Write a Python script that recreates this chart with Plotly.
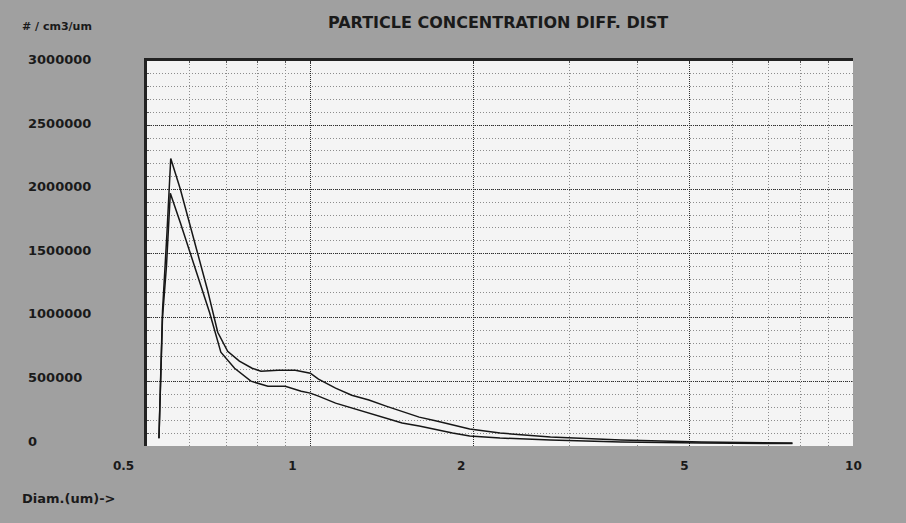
import math
import plotly.graph_objects as go

# ---------------- data ----------------
X_TICKS = [0.5, 1, 2, 5, 10]
X_TICK_LABELS = ["0.5", "1", "2", "5", "10"]
X_MINOR = [0.6, 0.7, 0.8, 0.9, 3, 4, 6, 7, 8, 9]
Y_TICKS = [0, 500000, 1000000, 1500000, 2000000, 2500000, 3000000]
Y_TICK_LABELS = ["0", "500000", "1000000", "1500000", "2000000", "2500000", "3000000"]
Y_MINOR_STEP = 100000

diam_upper = [0.526, 0.534, 0.544, 0.553, 0.576, 0.611, 0.646, 0.675, 0.704, 0.740,
              0.781, 0.811, 0.872, 0.938, 1.0, 1.035, 1.080, 1.113, 1.192, 1.282,
              1.379, 1.476, 1.587, 1.708, 1.828, 1.966, 2.236, 2.770, 3.736, 5.264, 7.735]
conc_upper = [60000, 1050000, 1650000, 2240000, 2000000, 1610000, 1220000, 886000, 738000, 661000,
              606000, 583000, 591000, 591000, 567000, 521000, 480000, 451000, 396000, 358000,
              311000, 272000, 225000, 194000, 163000, 132000, 101000, 70000, 47000, 31000, 23000]

diam_lower = [0.526, 0.534, 0.543, 0.552, 0.576, 0.611, 0.652, 0.684, 0.725, 0.777,
              0.835, 0.899, 0.962, 1.0, 1.035, 1.113, 1.192, 1.282, 1.379, 1.476,
              1.587, 1.708, 1.828, 1.966, 2.236, 2.770, 3.736, 5.264, 7.735]
conc_lower = [60000, 1000000, 1400000, 1970000, 1740000, 1400000, 1040000, 731000, 606000, 505000,
              466000, 466000, 427000, 412000, 389000, 334000, 295000, 256000, 218000, 179000,
              155000, 124000, 101000, 78000, 62000, 47000, 31000, 23000, 19000]

TITLE = "PARTICLE CONCENTRATION DIFF. DIST"
Y_UNIT = "# / cm3/um"
X_UNIT = "Diam.(um)->"

# ---------------- layout (pixels) ----------------
W, H = 906, 523
PL, PR, PT, PB = 147, 853, 61, 446          # plot box
XL_L, XL_R = 100, 880                        # extent of x-label axis
XL_AT1, XL_PER_DEC = 292.4, 561.0            # where tick labels sit
YL_B, YL_T = 457, 50                         # extent of y-label axis
YL_AT0, YL_PER_UNIT = 441.0, 127.07e-6
YL_X = 27

FONT = "DejaVu Sans"
TXT = "#1a1a1a"
GRID_MAJ = "#2e2e2e"
GRID_MIN = "#8c8c8c"
LINE = "#161616"
BG = "#a0a0a0"

fig = go.Figure()
fig.add_trace(go.Scatter(x=diam_upper, y=conc_upper, mode="lines",
                         line=dict(color=LINE, width=1.5), hoverinfo="skip", showlegend=False))
fig.add_trace(go.Scatter(x=diam_lower, y=conc_lower, mode="lines",
                         line=dict(color=LINE, width=1.5), hoverinfo="skip", showlegend=False))
# invisible trace that keeps the tick-label axes alive
fig.add_trace(go.Scatter(x=[X_TICKS[1]], y=[Y_TICKS[0]], mode="markers", marker=dict(opacity=0),
                         xaxis="x2", yaxis="y2", hoverinfo="skip", showlegend=False))

tick_font = dict(family=FONT, size=13, color=TXT, weight="bold")

fig.update_layout(
    width=W, height=H, autosize=False,
    margin=dict(l=0, r=0, t=0, b=0, pad=0),
    paper_bgcolor=BG,
    plot_bgcolor="rgba(0,0,0,0)",
    showlegend=False,
    title=dict(text=TITLE, x=498 / W, y=1 - 22 / H, xanchor="center", yanchor="middle",
               font=dict(family=FONT, size=16, color=TXT, weight="bold")),
    xaxis=dict(
        type="log", range=[math.log10(X_TICKS[0]), math.log10(X_TICKS[-1])],
        domain=[PL / W, PR / W], side="top", anchor="y",
        showline=True, linecolor="#222222", linewidth=2.5,
        tickvals=X_TICKS, showticklabels=False,
        ticks="inside", ticklen=3, tickcolor="#333333",
        showgrid=True, gridcolor=GRID_MAJ, gridwidth=1, griddash="1px,1px",
        zeroline=False,
        minor=dict(tickvals=X_MINOR, showgrid=True, gridcolor=GRID_MIN, gridwidth=1,
                   griddash="1px,2px", ticks="inside", ticklen=2, tickcolor="#555555"),
    ),
    yaxis=dict(
        range=[Y_TICKS[0], Y_TICKS[-1]],
        domain=[(H - PB) / H, (H - PT) / H], anchor="x",
        showline=True, linecolor="#222222", linewidth=3,
        tickvals=Y_TICKS, showticklabels=False,
        ticks="inside", ticklen=3, tickcolor="#333333",
        showgrid=True, gridcolor=GRID_MAJ, gridwidth=1, griddash="1px,1px",
        zeroline=False,
        minor=dict(tick0=0, dtick=Y_MINOR_STEP, showgrid=True, gridcolor=GRID_MIN, gridwidth=1,
                   griddash="1px,2px", ticks="inside", ticklen=2, tickcolor="#555555"),
    ),
    xaxis2=dict(
        type="log",
        range=[(XL_L - XL_AT1) / XL_PER_DEC, (XL_R - XL_AT1) / XL_PER_DEC],
        domain=[XL_L / W, XL_R / W], anchor="y2", side="bottom",
        tickvals=X_TICKS, ticktext=X_TICK_LABELS, tickfont=dict(family=FONT, size=12, color=TXT, weight="bold"),
        ticks="", showline=False, showgrid=False, zeroline=False,
    ),
    yaxis2=dict(
        range=[(YL_AT0 - YL_B) / YL_PER_UNIT, (YL_AT0 - YL_T) / YL_PER_UNIT],
        domain=[(H - YL_B) / H, (H - YL_T) / H], anchor="free", position=YL_X / W, side="right",
        tickvals=Y_TICKS, ticktext=Y_TICK_LABELS, tickfont=tick_font,
        ticks="", showline=False, showgrid=False, zeroline=False,
    ),
    shapes=[dict(type="rect", xref="x domain", yref="y domain", x0=0, x1=1, y0=0, y1=1,
                 fillcolor="#f4f4f4", line=dict(width=0), layer="below")],
    annotations=[
        dict(text=Y_UNIT, x=20 / W, y=1 - 27 / H, xref="paper", yref="paper",
             xanchor="left", yanchor="middle", showarrow=False,
             font=dict(family=FONT, size=11, color=TXT, weight="bold")),
        dict(text=X_UNIT, x=20 / W, y=1 - 498 / H, xref="paper", yref="paper",
             xanchor="left", yanchor="middle", showarrow=False,
             font=dict(family=FONT, size=13, color=TXT, weight="bold")),
    ],
)

fig.write_html(
    "out.html",
    config={"displayModeBar": False},
    post_script=(
        "document.documentElement.style.margin='0';"
        "document.body.style.margin='0';document.body.style.padding='0';"
        "document.body.style.overflow='hidden';"
        "document.body.style.background='" + BG + "';"
    ),
)
